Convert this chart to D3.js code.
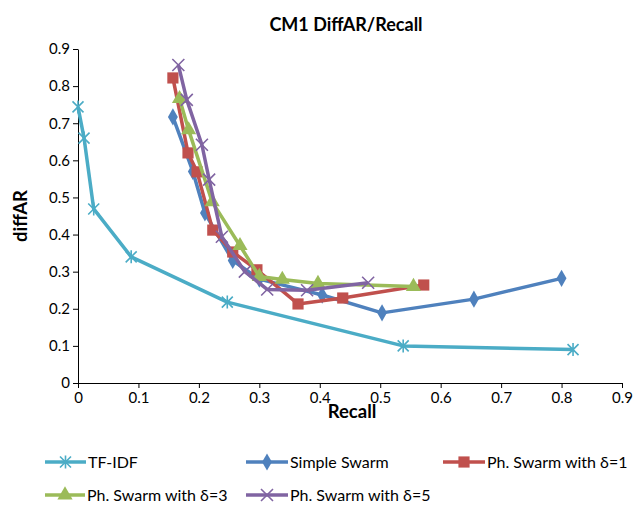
<!DOCTYPE html>
<html>
<head>
<meta charset="utf-8">
<script src="https://cdn.jsdelivr.net/npm/d3@7"></script>
<style>
  body { margin: 0; background: #fff; }
  svg text { font-family: Lato, "Liberation Sans", sans-serif; fill: #000; }
</style>
</head>
<body>
<div id="chart"></div>
<script>
// recall / diffAR pairs
const tfidf = [[0, 0.744], [0.01, 0.66], [0.026, 0.469], [0.088, 0.34], [0.247, 0.218], [0.538, 0.1], [0.819, 0.09]];
const simpleSwarm = [[0.157, 0.717], [0.19, 0.57], [0.21, 0.458], [0.256, 0.33], [0.3, 0.28], [0.404, 0.237], [0.503, 0.189], [0.655, 0.226], [0.8, 0.282]];
const swarmD1 = [[0.157, 0.822], [0.182, 0.62], [0.197, 0.569], [0.223, 0.412], [0.256, 0.353], [0.296, 0.305], [0.364, 0.213], [0.438, 0.229], [0.572, 0.264]];
const swarmD3 = [[0.168, 0.766], [0.183, 0.682], [0.222, 0.488], [0.268, 0.37], [0.3, 0.287], [0.338, 0.279], [0.397, 0.268], [0.555, 0.26]];
const swarmD5 = [[0.166, 0.857], [0.18, 0.763], [0.205, 0.642], [0.217, 0.548], [0.238, 0.394], [0.276, 0.3], [0.313, 0.252], [0.379, 0.25], [0.48, 0.27]];

const seriesNames = ["TF-IDF", "Simple Swarm", "Ph. Swarm with δ=1", "Ph. Swarm with δ=3", "Ph. Swarm with δ=5"];
const xTicks = [0, 0.1, 0.2, 0.3, 0.4, 0.5, 0.6, 0.7, 0.8, 0.9];
const yTicks = [0, 0.1, 0.2, 0.3, 0.4, 0.5, 0.6, 0.7, 0.8, 0.9];

const series = [
    { name: seriesNames[0], values: tfidf, color: "#4bacc6", marker: "star" },
    { name: seriesNames[1], values: simpleSwarm, color: "#4f81bd", marker: "diamond" },
    { name: seriesNames[2], values: swarmD1, color: "#c0504d", marker: "square" },
    { name: seriesNames[3], values: swarmD3, color: "#9bbb59", marker: "triangle" },
    { name: seriesNames[4], values: swarmD5, color: "#8064a2", marker: "cross" }
];

const width = 633, height = 505;
const margin = { left: 78, right: 11, top: 49, bottom: 122 };

const svg = d3.select("#chart").append("svg")
    .attr("width", width)
    .attr("height", height);

const x = d3.scaleLinear().domain([0, 0.9]).range([margin.left, width - margin.right]);
const y = d3.scaleLinear().domain([0, 0.9]).range([height - margin.bottom, margin.top]);

// title
svg.append("text")
    .attr("x", 346).attr("y", 31)
    .attr("text-anchor", "middle")
    .style("font-size", "18px").style("font-weight", "bold")
    .text("CM1 DiffAR/Recall");

// axes
const fmt = d => d === 0 ? "0" : d3.format(".1f")(d);

const xAxis = svg.append("g")
    .attr("transform", `translate(0,${y(0)})`)
    .call(d3.axisBottom(x).tickValues(xTicks).tickFormat(fmt).tickSize(5).tickSizeOuter(0));
const yAxis = svg.append("g")
    .attr("transform", `translate(${x(0)},0)`)
    .call(d3.axisLeft(y).tickValues(yTicks).tickFormat(fmt).tickSize(5).tickSizeOuter(0));

[xAxis, yAxis].forEach(a => {
    a.select(".domain").attr("stroke", "#000").attr("stroke-width", 1);
    a.selectAll(".tick line").attr("stroke", "#000");
    a.selectAll("text").style("font-size", "15px").attr("fill", "#000")
        .style("font-family", "Lato, 'Liberation Sans', sans-serif");
});
xAxis.selectAll("text").attr("dy", "0.8em");
yAxis.selectAll("text").attr("x", -8);

// axis titles
svg.append("text")
    .attr("x", 352).attr("y", 418)
    .attr("text-anchor", "middle")
    .style("font-size", "18.5px").style("font-weight", "bold")
    .text("Recall");
svg.append("text")
    .attr("transform", `translate(27,${(y(0) + y(0.9)) / 2}) rotate(-90)`)
    .attr("text-anchor", "middle")
    .style("font-size", "18.5px").style("font-weight", "bold")
    .text("diffAR");

// markers
function drawMarker(g, type, color, cx, cy) {
    if (type === "diamond") {
        g.append("path").attr("d", d3.symbol(d3.symbolDiamond, 85)())
            .attr("transform", `translate(${cx},${cy})`).attr("fill", color);
    } else if (type === "square") {
        g.append("path").attr("d", d3.symbol(d3.symbolSquare, 125)())
            .attr("transform", `translate(${cx},${cy})`).attr("fill", color);
    } else if (type === "triangle") {
        g.append("path").attr("d", d3.symbol(d3.symbolTriangle, 100)())
            .attr("transform", `translate(${cx},${cy})`).attr("fill", color);
    } else if (type === "cross") {
        const r = 6;
        g.append("path")
            .attr("d", `M${-r},${-r}L${r},${r}M${-r},${r}L${r},${-r}`)
            .attr("transform", `translate(${cx},${cy})`)
            .attr("stroke", color).attr("stroke-width", 1.6).attr("fill", "none");
    } else if (type === "star") {
        const r = 5.5;
        g.append("path")
            .attr("d", `M${-r},${-r}L${r},${r}M${-r},${r}L${r},${-r}M0,${-r - 1}L0,${r + 1}`)
            .attr("transform", `translate(${cx},${cy})`)
            .attr("stroke", color).attr("stroke-width", 1.6).attr("fill", "none");
    }
}

const line = d3.line().x(d => x(d[0])).y(d => y(d[1]));

series.forEach(s => {
    const g = svg.append("g");
    g.append("path")
        .datum(s.values)
        .attr("d", line)
        .attr("fill", "none")
        .attr("stroke", s.color)
        .attr("stroke-width", 3.5)
        .attr("stroke-linejoin", "round");
    s.values.forEach(d => drawMarker(g, s.marker, s.color, x(d[0]), y(d[1])));
});

// legend
const legendPos = [
    { lx: 45, ly: 462, tx: 88 },
    { lx: 246, ly: 462, tx: 290 },
    { lx: 443, ly: 462, tx: 487 },
    { lx: 45, ly: 495, tx: 87 },
    { lx: 246, ly: 495, tx: 290 }
];
series.forEach((s, i) => {
    const p = legendPos[i];
    const g = svg.append("g");
    g.append("line")
        .attr("x1", p.lx).attr("x2", p.tx - 2)
        .attr("y1", p.ly).attr("y2", p.ly)
        .attr("stroke", s.color).attr("stroke-width", 3.5);
    drawMarker(g, s.marker, s.color, (p.lx + p.tx - 2) / 2, p.ly);
    g.append("text")
        .attr("x", p.tx).attr("y", p.ly + 5.5)
        .style("font-size", "16px")
        .text(s.name);
});
</script>
</body>
</html>
